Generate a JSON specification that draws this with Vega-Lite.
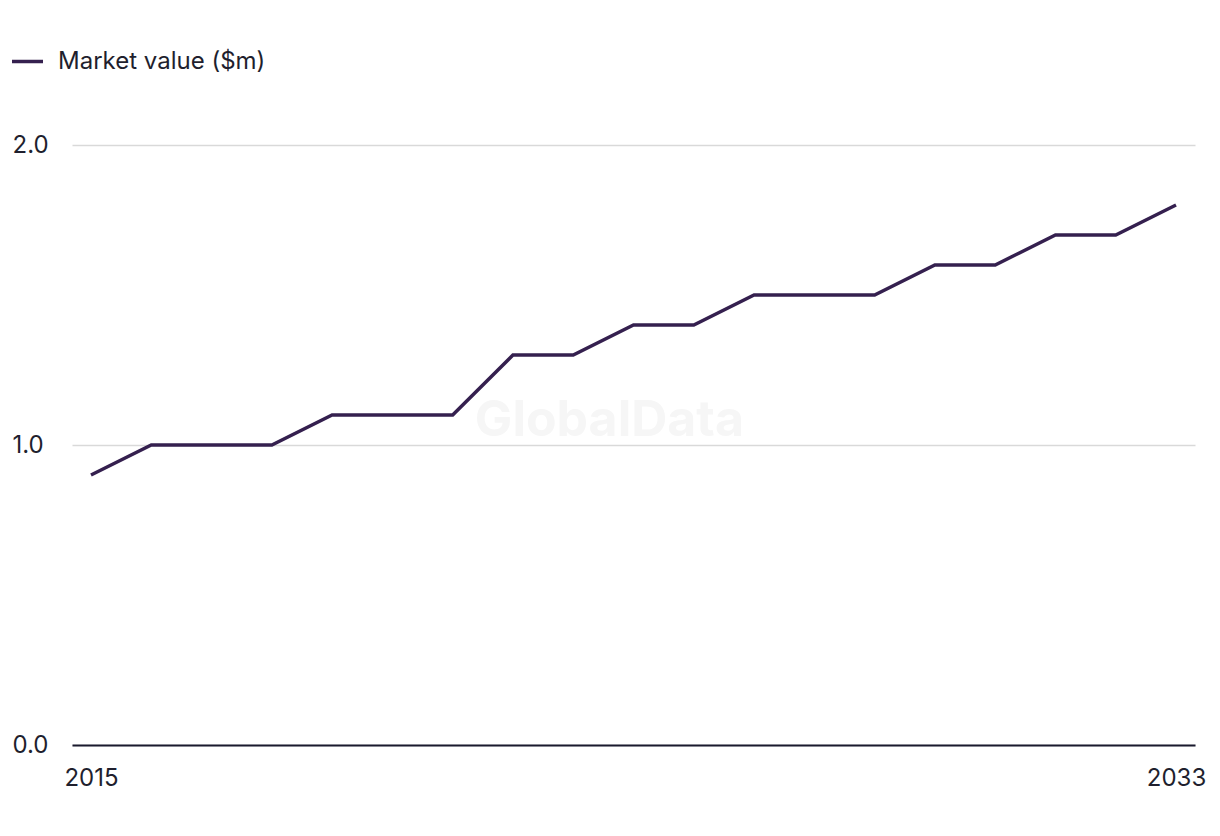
{
  "$schema": "https://vega.github.io/schema/vega-lite/v6.json",
  "width": 1123,
  "height": 600,
  "autosize": "none",
  "padding": {"left": 72, "top": 145, "right": 25, "bottom": 91},
  "background": "white",
  "config": {
    "view": {"stroke": null},
    "font": "Inter",
    "axis": {"labelFont": "Inter", "labelFontSize": 24, "labelColor": "#1f1f2e", "titleColor": "#1f1f2e"},
    "legend": {"labelFont": "Inter", "labelFontSize": 24, "labelColor": "#1f1f2e", "labelLimit": 0}
  },
  "datasets": {
    "market": [
      {"year": 2015, "value": 0.9, "series": "Market value ($m)"},
      {"year": 2016, "value": 1.0, "series": "Market value ($m)"},
      {"year": 2017, "value": 1.0, "series": "Market value ($m)"},
      {"year": 2018, "value": 1.0, "series": "Market value ($m)"},
      {"year": 2019, "value": 1.1, "series": "Market value ($m)"},
      {"year": 2020, "value": 1.1, "series": "Market value ($m)"},
      {"year": 2021, "value": 1.1, "series": "Market value ($m)"},
      {"year": 2022, "value": 1.3, "series": "Market value ($m)"},
      {"year": 2023, "value": 1.3, "series": "Market value ($m)"},
      {"year": 2024, "value": 1.4, "series": "Market value ($m)"},
      {"year": 2025, "value": 1.4, "series": "Market value ($m)"},
      {"year": 2026, "value": 1.5, "series": "Market value ($m)"},
      {"year": 2027, "value": 1.5, "series": "Market value ($m)"},
      {"year": 2028, "value": 1.5, "series": "Market value ($m)"},
      {"year": 2029, "value": 1.6, "series": "Market value ($m)"},
      {"year": 2030, "value": 1.6, "series": "Market value ($m)"},
      {"year": 2031, "value": 1.7, "series": "Market value ($m)"},
      {"year": 2032, "value": 1.7, "series": "Market value ($m)"},
      {"year": 2033, "value": 1.8, "series": "Market value ($m)"}
    ],
    "watermark": [
      {"year": 2023.6, "value": 1.08, "label": "GlobalData"}
    ]
  },
  "layer": [
    {
      "data": {"name": "watermark"},
      "mark": {"type": "text", "font": "Inter", "fontSize": 50, "fontWeight": "bold", "color": "#f6f6f6", "align": "center", "baseline": "middle"},
      "encoding": {
        "x": {"field": "year", "type": "quantitative", "scale": {"domain": [2014.685, 2033.315], "nice": false, "zero": false}},
        "y": {"field": "value", "type": "quantitative", "scale": {"domain": [0, 2]}},
        "text": {"field": "label"}
      }
    },
    {
      "data": {"name": "market"},
      "mark": {"type": "line", "strokeWidth": 3.5, "strokeJoin": "miter"},
      "encoding": {
        "x": {
          "field": "year", "type": "quantitative",
          "scale": {"domain": [2014.685, 2033.315], "nice": false, "zero": false},
          "axis": {"values": [2015, 2033], "format": "d", "title": null, "grid": false, "ticks": false, "domain": true, "domainColor": "#1a1a2e", "domainWidth": 2, "labelPadding": 21, "labelFlush": false}
        },
        "y": {
          "field": "value", "type": "quantitative",
          "scale": {"domain": [0, 2]},
          "axis": {"values": [0, 1, 2], "format": ".1f", "title": null, "ticks": false, "domain": false, "grid": true, "gridColor": "#d9d9d9", "gridWidth": 1.5, "labelAlign": "left", "labelBaseline": "middle", "labelPadding": 60}
        },
        "color": {
          "field": "series", "type": "nominal",
          "scale": {"range": ["#35204f"]},
          "legend": {"title": null, "orient": "none", "legendX": -62, "legendY": -101, "symbolType": "stroke", "symbolSize": 961, "symbolStrokeWidth": 3.5, "labelOffset": 13, "padding": 0}
        }
      }
    }
  ]
}
